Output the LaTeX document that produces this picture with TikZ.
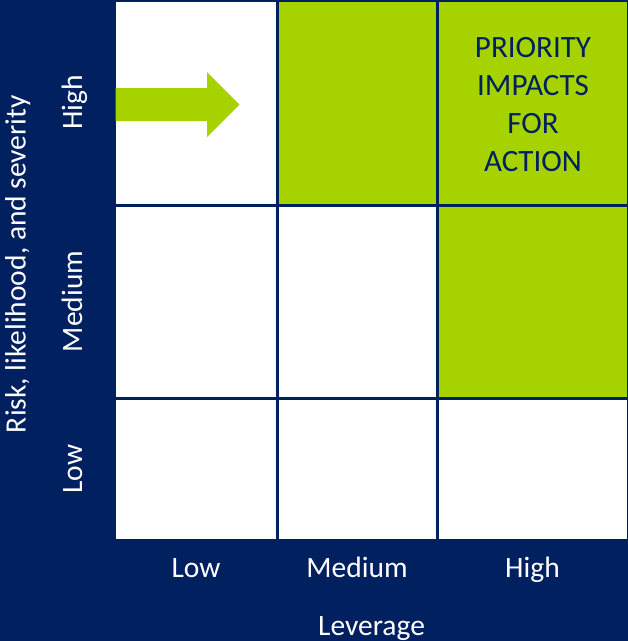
\documentclass[tikz,border=0pt]{standalone}
\usepackage{fontspec}
\setmainfont{Carlito}
\definecolor{navy}{RGB}{0,32,96}
\definecolor{leaf}{RGB}{166,211,0}
\begin{document}
\begin{tikzpicture}[x=1pt,y=-1pt,
  cell/.style={draw=navy, line width=3pt, anchor=north west, inner sep=0pt, outer sep=0pt},
  lbl/.style={text=white, font=\fontsize{29.5}{36}\selectfont, inner sep=0pt, anchor=base},
  vlbl/.style={lbl, rotate=90},
  callout/.style={text=navy, font=\fontsize{31}{38.2}\selectfont, align=center, inner sep=0pt}]
% background and page size
\fill[navy] (0,0) rectangle (628,641);
\useasboundingbox (0,0) rectangle (628,641);

% 3x3 matrix: rows High / Medium / Low, columns Low / Medium / High
\node[cell, fill=white, minimum width=163, minimum height=205] (hl) at (114,0) {};
\node[cell, fill=leaf,  minimum width=160, minimum height=205] (hm) at (277,0) {};
\node[cell, fill=leaf,  minimum width=191, minimum height=205] (hh) at (437,0) {};
\node[cell, fill=white, minimum width=163, minimum height=193] (ml) at (114,205) {};
\node[cell, fill=white, minimum width=160, minimum height=193] (mm) at (277,205) {};
\node[cell, fill=leaf,  minimum width=191, minimum height=193] (mh) at (437,205) {};
\node[cell, fill=white, minimum width=163, minimum height=142] (ll) at (114,398) {};
\node[cell, fill=white, minimum width=160, minimum height=142] (lm) at (277,398) {};
\node[cell, fill=white, minimum width=191, minimum height=142] (lh) at (437,398) {};

% block arrow pointing towards the priority cells
\fill[leaf] (115.5,88) -- (207,88) -- (207,72) -- (239.5,104.5) -- (207,137)
  -- (207,121) -- (115.5,121) -- cycle;

% callout text
\node[callout] (prio) at (533,104.5) {PRIORITY\\IMPACTS\\FOR\\ACTION};

% horizontal axis
\node[lbl] (xlow) at (196,577) {Low};
\node[lbl] (xmed) at (357,577) {Medium};
\node[lbl] (xhigh) at (532.5,577) {High};
\node[lbl] (xtitle) at (371.5,635) {Leverage};

% vertical axis
\node[vlbl] (yhigh) at (82,102.5) {High};
\node[vlbl] (ymed) at (82,301.5) {Medium};
\node[vlbl] (ylow) at (82,469) {Low};
\node[vlbl] (ytitle) at (25.5,264) {Risk, likelihood, and severity};
\end{tikzpicture}
\end{document}
